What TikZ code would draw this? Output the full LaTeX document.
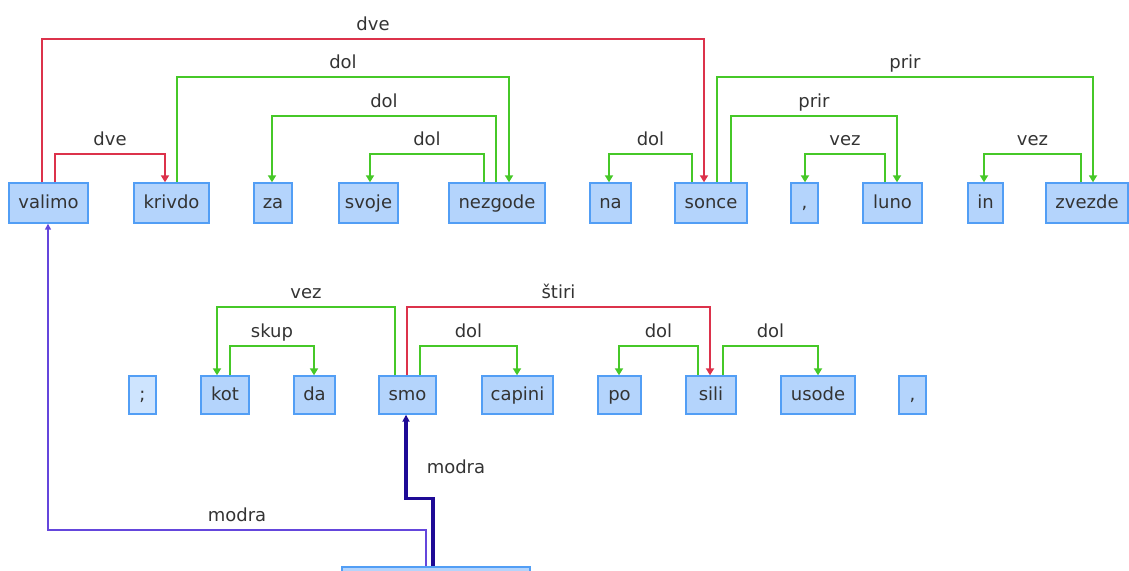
\documentclass[tikz,border=0pt]{standalone}
\usepackage{fontspec}
\setmainfont{DejaVu Sans}
\usetikzlibrary{arrows.meta, positioning}
\definecolor{boxfill}{RGB}{180,212,252}
\definecolor{punctfill}{RGB}{206,228,254}
\definecolor{boxline}{RGB}{82,158,245}
\definecolor{relgreen}{RGB}{70,200,40}
\definecolor{relred}{RGB}{220,50,75}
\definecolor{relpurple}{RGB}{100,70,220}
\definecolor{reldark}{RGB}{30,10,150}

\begin{document}
\begin{tikzpicture}[
  x=1pt, y=-1pt,
  font=\fontsize{18}{21}\selectfont,
  text=black!80,
  box/.style={rectangle, draw=boxline, fill=boxfill, line width=1.4pt,
    inner sep=0pt, minimum height=40pt, text height=13pt, text depth=3pt},
  pbox/.style={box, fill=punctfill},
  arr/.style={-{Triangle[length=7pt, width=8pt]}, line width=2pt},
  grn/.style={arr, draw=relgreen},
  rd/.style={arr, draw=relred},
  lbl/.style={anchor=base, yshift=9pt, inner sep=0pt}
]
\useasboundingbox (0,0) rectangle (1129,570);
% first sentence
\node[box, minimum width=79pt] (valimo) at (48.5,203) {valimo};
\node[box, minimum width=75pt] (krivdo) at (171.5,203) {krivdo};
\node[box, minimum width=38pt] (za) at (273,203) {za};
\node[box, minimum width=59pt] (svoje) at (368.5,203) {svoje};
\node[box, minimum width=96pt] (nezgode) at (497,203) {nezgode};
\node[box, minimum width=41pt] (na) at (610.5,203) {na};
\node[box, minimum width=72pt] (sonce) at (711,203) {sonce};
\node[box, minimum width=27pt] (vejica) at (804.5,203) {,};
\node[box, minimum width=59pt] (luno) at (892.5,203) {luno};
\node[box, minimum width=35pt] (in) at (985.5,203) {in};
\node[box, minimum width=82pt] (zvezde) at (1087,203) {zvezde};
% second sentence
\node[pbox, minimum width=27pt, minimum height=38pt] (podpicje) at (142.5,395) {;};
\node[box, minimum width=48pt, minimum height=38pt] (kot) at (225,395) {kot};
\node[box, minimum width=41pt, minimum height=38pt] (da) at (314.5,395) {da};
\node[box, minimum width=57pt, minimum height=38pt] (smo) at (407.5,395) {smo};
\node[box, minimum width=71pt, minimum height=38pt] (capini) at (517.5,395) {capini};
\node[box, minimum width=43pt, minimum height=38pt] (po) at (619.5,395) {po};
\node[box, minimum width=50pt, minimum height=38pt] (sili) at (711,395) {sili};
\node[box, minimum width=74pt, minimum height=38pt] (usode) at (818,395) {usode};
\node[box, minimum width=27pt, minimum height=38pt] (vejica2) at (912.5,395) {,};
% root
\node[box, minimum width=188pt] (root) at (436,587) {};
% relations, first sentence
\draw[rd] ([xshift=-6.5pt]valimo.north) -- ++(0,-143) -| node[lbl, pos=0.25]{dve} ([xshift=-7pt]sonce.north);
\draw[rd] ([xshift=6.5pt]valimo.north) -- ++(0,-28) -| node[lbl, pos=0.25]{dve} ([xshift=-6.5pt]krivdo.north);
\draw[grn] ([xshift=5.5pt]krivdo.north) -- ++(0,-105) -| node[lbl, pos=0.25]{dol} ([xshift=12pt]nezgode.north);
\draw[grn] ([xshift=-1pt]nezgode.north) -- ++(0,-66) -| node[lbl, pos=0.25]{dol} ([xshift=-1pt]za.north);
\draw[grn] ([xshift=-13pt]nezgode.north) -- ++(0,-28) -| node[lbl, pos=0.25]{dol} ([xshift=1.5pt]svoje.north);
\draw[grn] ([xshift=-19pt]sonce.north) -- ++(0,-28) -| node[lbl, pos=0.25]{dol} ([xshift=-1.5pt]na.north);
\draw[grn] ([xshift=6pt]sonce.north) -- ++(0,-105) -| node[lbl, pos=0.25]{prir} ([xshift=6pt]zvezde.north);
\draw[grn] ([xshift=20pt]sonce.north) -- ++(0,-66) -| node[lbl, pos=0.25]{prir} ([xshift=4.5pt]luno.north);
\draw[grn] ([xshift=-7.5pt]luno.north) -- ++(0,-28) -| node[lbl, pos=0.25]{vez} ([xshift=0.5pt]vejica.north);
\draw[grn] ([xshift=-6pt]zvezde.north) -- ++(0,-28) -| node[lbl, pos=0.25]{vez} ([xshift=-1.5pt]in.north);
% relations, second sentence
\draw[grn] ([xshift=-12.5pt]smo.north) -- ++(0,-68) -| node[lbl, pos=0.25]{vez} ([xshift=-8pt]kot.north);
\draw[grn] ([xshift=5pt]kot.north) -- ++(0,-29) -| node[lbl, pos=0.25]{skup} ([xshift=-0.5pt]da.north);
\draw[rd] ([xshift=-0.5pt]smo.north) -- ++(0,-68) -| node[lbl, pos=0.25]{štiri} ([xshift=-1pt]sili.north);
\draw[grn] ([xshift=12.5pt]smo.north) -- ++(0,-29) -| node[lbl, pos=0.25]{dol} ([xshift=-0.5pt]capini.north);
\draw[grn] ([xshift=-13pt]sili.north) -- ++(0,-29) -| node[lbl, pos=0.25]{dol} ([xshift=-0.5pt]po.north);
\draw[grn] ([xshift=12pt]sili.north) -- ++(0,-29) -| node[lbl, pos=0.25]{dol} (usode.north);
% from the root
\draw[arr, draw=relpurple, -{Triangle[length=6pt, width=6pt]}] ([xshift=-10pt]root.north) -- ++(0,-36) -| node[lbl, pos=0.25]{modra} ([xshift=-0.5pt]valimo.south);
\draw[arr, draw=reldark, line width=3.5pt, -{Triangle[length=7pt, width=7pt]}] ([xshift=-3pt]root.north) -- ++(0,-68) -| node[anchor=base west, pos=0.65, xshift=19pt, inner sep=0pt]{modra} ([xshift=-1.5pt]smo.south);
\end{tikzpicture}
\end{document}
